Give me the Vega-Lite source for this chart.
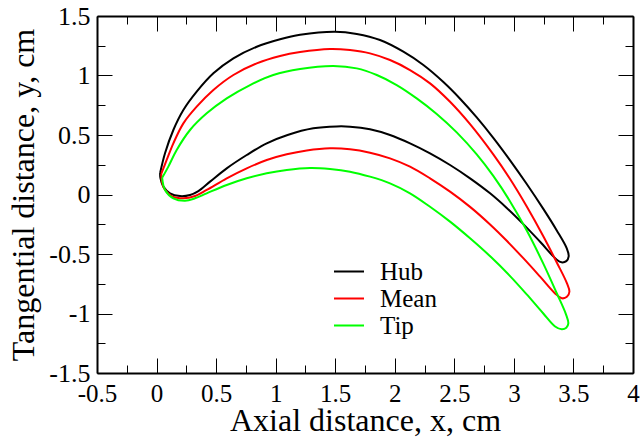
{
  "$schema": "https://vega.github.io/schema/vega-lite/v6.json",
  "width": 536,
  "height": 357,
  "autosize": "none",
  "padding": {"left": 97, "top": 16, "right": 7, "bottom": 68},
  "config": {
    "view": {"stroke": null},
    "font": "Liberation Serif",
    "axis": {
      "domainColor": "#000000",
      "domainWidth": 2,
      "tickColor": "#000000",
      "tickWidth": 1,
      "grid": false,
      "labelColor": "#000000",
      "titleColor": "#000000",
      "labelFont": "Liberation Serif",
      "titleFont": "Liberation Serif",
      "labelFontSize": 26,
      "titleFontSize": 32,
      "titleFontWeight": "normal",
      "labelFlush": false,
      "labelOverlap": false
    }
  },
  "datasets": {
    "blades": [
      {"s":"Hub","i":0,"x":0.030,"y":0.180},{"s":"Hub","i":1,"x":0.071,"y":0.346},{"s":"Hub","i":2,"x":0.141,"y":0.542},{"s":"Hub","i":3,"x":0.225,"y":0.710},{"s":"Hub","i":4,"x":0.337,"y":0.864},{"s":"Hub","i":5,"x":0.477,"y":1.018},{"s":"Hub","i":6,"x":0.645,"y":1.144},{"s":"Hub","i":7,"x":0.841,"y":1.242},{"s":"Hub","i":8,"x":1.037,"y":1.304},{"s":"Hub","i":9,"x":1.205,"y":1.342},{"s":"Hub","i":10,"x":1.498,"y":1.368},{"s":"Hub","i":11,"x":1.681,"y":1.349},{"s":"Hub","i":12,"x":1.876,"y":1.298},{"s":"Hub","i":13,"x":2.072,"y":1.200},{"s":"Hub","i":14,"x":2.240,"y":1.088},{"s":"Hub","i":15,"x":2.408,"y":0.945},{"s":"Hub","i":16,"x":2.548,"y":0.805},{"s":"Hub","i":17,"x":2.688,"y":0.648},{"s":"Hub","i":18,"x":2.827,"y":0.476},{"s":"Hub","i":19,"x":2.968,"y":0.287},{"s":"Hub","i":20,"x":3.108,"y":0.088},{"s":"Hub","i":21,"x":3.247,"y":-0.121},{"s":"Hub","i":22,"x":3.360,"y":-0.302},{"s":"Hub","i":23,"x":3.444,"y":-0.453},{"s":"Hub","i":24,"x":3.460,"y":-0.520},{"s":"Hub","i":25,"x":3.440,"y":-0.560},{"s":"Hub","i":26,"x":3.400,"y":-0.570},{"s":"Hub","i":27,"x":3.360,"y":-0.548},{"s":"Hub","i":28,"x":3.220,"y":-0.397},{"s":"Hub","i":29,"x":3.079,"y":-0.249},{"s":"Hub","i":30,"x":2.940,"y":-0.113},{"s":"Hub","i":31,"x":2.800,"y":0.010},{"s":"Hub","i":32,"x":2.632,"y":0.136},{"s":"Hub","i":33,"x":2.464,"y":0.248},{"s":"Hub","i":34,"x":2.296,"y":0.346},{"s":"Hub","i":35,"x":2.128,"y":0.430},{"s":"Hub","i":36,"x":1.960,"y":0.500},{"s":"Hub","i":37,"x":1.792,"y":0.548},{"s":"Hub","i":38,"x":1.624,"y":0.570},{"s":"Hub","i":39,"x":1.512,"y":0.572},{"s":"Hub","i":40,"x":1.316,"y":0.556},{"s":"Hub","i":41,"x":1.100,"y":0.500},{"s":"Hub","i":42,"x":0.925,"y":0.430},{"s":"Hub","i":43,"x":0.757,"y":0.332},{"s":"Hub","i":44,"x":0.589,"y":0.220},{"s":"Hub","i":45,"x":0.449,"y":0.108},{"s":"Hub","i":46,"x":0.351,"y":0.029},{"s":"Hub","i":47,"x":0.281,"y":-0.004},{"s":"Hub","i":48,"x":0.197,"y":-0.013},{"s":"Hub","i":49,"x":0.113,"y":0.010},{"s":"Hub","i":50,"x":0.057,"y":0.066},{"s":"Hub","i":51,"x":0.032,"y":0.140},{"s":"Hub","i":52,"x":0.030,"y":0.180},
      {"s":"Mean","i":0,"x":0.040,"y":0.175},{"s":"Mean","i":1,"x":0.085,"y":0.290},{"s":"Mean","i":2,"x":0.141,"y":0.430},{"s":"Mean","i":3,"x":0.225,"y":0.598},{"s":"Mean","i":4,"x":0.337,"y":0.738},{"s":"Mean","i":5,"x":0.477,"y":0.878},{"s":"Mean","i":6,"x":0.645,"y":1.004},{"s":"Mean","i":7,"x":0.841,"y":1.102},{"s":"Mean","i":8,"x":1.037,"y":1.164},{"s":"Mean","i":9,"x":1.205,"y":1.197},{"s":"Mean","i":10,"x":1.456,"y":1.223},{"s":"Mean","i":11,"x":1.624,"y":1.214},{"s":"Mean","i":12,"x":1.792,"y":1.186},{"s":"Mean","i":13,"x":1.960,"y":1.130},{"s":"Mean","i":14,"x":2.128,"y":1.046},{"s":"Mean","i":15,"x":2.296,"y":0.934},{"s":"Mean","i":16,"x":2.464,"y":0.779},{"s":"Mean","i":17,"x":2.632,"y":0.591},{"s":"Mean","i":18,"x":2.827,"y":0.337},{"s":"Mean","i":19,"x":2.968,"y":0.130},{"s":"Mean","i":20,"x":3.108,"y":-0.101},{"s":"Mean","i":21,"x":3.247,"y":-0.351},{"s":"Mean","i":22,"x":3.360,"y":-0.571},{"s":"Mean","i":23,"x":3.444,"y":-0.743},{"s":"Mean","i":24,"x":3.466,"y":-0.817},{"s":"Mean","i":25,"x":3.445,"y":-0.860},{"s":"Mean","i":26,"x":3.402,"y":-0.872},{"s":"Mean","i":27,"x":3.346,"y":-0.831},{"s":"Mean","i":28,"x":3.220,"y":-0.690},{"s":"Mean","i":29,"x":3.079,"y":-0.535},{"s":"Mean","i":30,"x":2.940,"y":-0.389},{"s":"Mean","i":31,"x":2.800,"y":-0.252},{"s":"Mean","i":32,"x":2.632,"y":-0.104},{"s":"Mean","i":33,"x":2.464,"y":0.024},{"s":"Mean","i":34,"x":2.296,"y":0.136},{"s":"Mean","i":35,"x":2.128,"y":0.234},{"s":"Mean","i":36,"x":1.960,"y":0.304},{"s":"Mean","i":37,"x":1.792,"y":0.351},{"s":"Mean","i":38,"x":1.624,"y":0.380},{"s":"Mean","i":39,"x":1.456,"y":0.388},{"s":"Mean","i":40,"x":1.261,"y":0.370},{"s":"Mean","i":41,"x":1.093,"y":0.338},{"s":"Mean","i":42,"x":0.925,"y":0.290},{"s":"Mean","i":43,"x":0.757,"y":0.220},{"s":"Mean","i":44,"x":0.589,"y":0.136},{"s":"Mean","i":45,"x":0.421,"y":0.038},{"s":"Mean","i":46,"x":0.323,"y":-0.013},{"s":"Mean","i":47,"x":0.225,"y":-0.032},{"s":"Mean","i":48,"x":0.127,"y":-0.013},{"s":"Mean","i":49,"x":0.063,"y":0.052},{"s":"Mean","i":50,"x":0.042,"y":0.130},{"s":"Mean","i":51,"x":0.040,"y":0.175},
      {"s":"Tip","i":0,"x":0.047,"y":0.140},{"s":"Tip","i":1,"x":0.099,"y":0.234},{"s":"Tip","i":2,"x":0.169,"y":0.374},{"s":"Tip","i":3,"x":0.281,"y":0.542},{"s":"Tip","i":4,"x":0.421,"y":0.682},{"s":"Tip","i":5,"x":0.589,"y":0.808},{"s":"Tip","i":6,"x":0.785,"y":0.920},{"s":"Tip","i":7,"x":0.980,"y":1.004},{"s":"Tip","i":8,"x":1.205,"y":1.055},{"s":"Tip","i":9,"x":1.484,"y":1.080},{"s":"Tip","i":10,"x":1.681,"y":1.060},{"s":"Tip","i":11,"x":1.849,"y":1.004},{"s":"Tip","i":12,"x":2.016,"y":0.920},{"s":"Tip","i":13,"x":2.184,"y":0.808},{"s":"Tip","i":14,"x":2.352,"y":0.677},{"s":"Tip","i":15,"x":2.520,"y":0.522},{"s":"Tip","i":16,"x":2.688,"y":0.337},{"s":"Tip","i":17,"x":2.827,"y":0.156},{"s":"Tip","i":18,"x":2.968,"y":-0.058},{"s":"Tip","i":19,"x":3.108,"y":-0.303},{"s":"Tip","i":20,"x":3.247,"y":-0.581},{"s":"Tip","i":21,"x":3.360,"y":-0.830},{"s":"Tip","i":22,"x":3.438,"y":-1.009},{"s":"Tip","i":23,"x":3.457,"y":-1.083},{"s":"Tip","i":24,"x":3.440,"y":-1.120},{"s":"Tip","i":25,"x":3.402,"y":-1.133},{"s":"Tip","i":26,"x":3.346,"y":-1.109},{"s":"Tip","i":27,"x":3.247,"y":-1.000},{"s":"Tip","i":28,"x":3.108,"y":-0.840},{"s":"Tip","i":29,"x":2.968,"y":-0.686},{"s":"Tip","i":30,"x":2.810,"y":-0.528},{"s":"Tip","i":31,"x":2.632,"y":-0.368},{"s":"Tip","i":32,"x":2.464,"y":-0.228},{"s":"Tip","i":33,"x":2.296,"y":-0.103},{"s":"Tip","i":34,"x":2.128,"y":0.010},{"s":"Tip","i":35,"x":1.960,"y":0.094},{"s":"Tip","i":36,"x":1.792,"y":0.150},{"s":"Tip","i":37,"x":1.624,"y":0.192},{"s":"Tip","i":38,"x":1.456,"y":0.214},{"s":"Tip","i":39,"x":1.288,"y":0.222},{"s":"Tip","i":40,"x":1.093,"y":0.206},{"s":"Tip","i":41,"x":0.925,"y":0.178},{"s":"Tip","i":42,"x":0.757,"y":0.136},{"s":"Tip","i":43,"x":0.589,"y":0.080},{"s":"Tip","i":44,"x":0.421,"y":0.010},{"s":"Tip","i":45,"x":0.323,"y":-0.032},{"s":"Tip","i":46,"x":0.239,"y":-0.052},{"s":"Tip","i":47,"x":0.141,"y":-0.032},{"s":"Tip","i":48,"x":0.071,"y":0.038},{"s":"Tip","i":49,"x":0.047,"y":0.140}
    ]
  },
  "data": {"name": "blades"},
  "resolve": {"axis": {"x": "independent", "y": "independent"}},
  "layer": [
    {
      "mark": {"type": "line", "strokeWidth": 2, "interpolate": "catmull-rom"},
      "encoding": {
        "x": {
          "field": "x", "type": "quantitative",
          "scale": {"domain": [-0.5, 4], "nice": false, "zero": false},
          "axis": {
            "orient": "bottom",
            "title": "Axial distance, x, cm",
            "labelFont": "Liberation Serif",
            "labelFontSize": 25,
            "titleFont": "Liberation Serif",
            "titleFontSize": 32,
            "values": [-0.5,-0.25,0,0.25,0.5,0.75,1,1.25,1.5,1.75,2,2.25,2.5,2.75,3,3.25,3.5,3.75,4],
            "labelExpr": "abs(datum.value*2 - round(datum.value*2)) < 0.001 ? '' + datum.value : ''",
            "tickSize": {"condition": {"test": "abs(datum.value*2 - round(datum.value*2)) < 0.001", "value": -15}, "value": -8},
            "labelPadding": 23,
            "titlePadding": -8
          }
        },
        "y": {
          "field": "y", "type": "quantitative",
          "scale": {"domain": [-1.5, 1.5], "nice": false, "zero": false},
          "axis": {
            "orient": "left",
            "title": "Tangential distance, y, cm",
            "labelFont": "Liberation Serif",
            "labelFontSize": 26,
            "titleFont": "Liberation Serif",
            "titleFontSize": 32,
            "values": [-1.5,-1.25,-1,-0.75,-0.5,-0.25,0,0.25,0.5,0.75,1,1.25,1.5],
            "labelExpr": "abs(datum.value*2 - round(datum.value*2)) < 0.001 ? '' + datum.value : ''",
            "tickSize": {"condition": {"test": "abs(datum.value*2 - round(datum.value*2)) < 0.001", "value": -15}, "value": -8},
            "labelPadding": 22,
            "titlePadding": 8
          }
        },
        "color": {
          "field": "s", "type": "nominal",
          "scale": {"domain": ["Hub", "Mean", "Tip"], "range": ["#000000", "#ff0000", "#00ff00"]},
          "legend": {
            "title": null,
            "orient": "none",
            "legendX": 236,
            "legendY": 243,
            "padding": 0,
            "symbolType": "stroke",
            "symbolSize": 900,
            "symbolStrokeWidth": 2,
            "labelFont": "Liberation Serif",
            "labelFontSize": 25,
            "labelColor": "#000000",
            "labelOffset": 15,
            "clipHeight": 25,
            "rowPadding": 1
          }
        },
        "order": {"field": "i", "type": "quantitative"}
      }
    },
    {
      "mark": {"type": "point", "opacity": 0, "size": 1},
      "encoding": {
        "x": {
          "field": "x", "type": "quantitative",
          "axis": {
            "orient": "top",
            "title": null,
            "labels": false,
            "values": [-0.5,-0.25,0,0.25,0.5,0.75,1,1.25,1.5,1.75,2,2.25,2.5,2.75,3,3.25,3.5,3.75,4],
            "tickSize": {"condition": {"test": "abs(datum.value*2 - round(datum.value*2)) < 0.001", "value": -15}, "value": -8}
          }
        },
        "y": {
          "field": "y", "type": "quantitative",
          "axis": {
            "orient": "right",
            "title": null,
            "labels": false,
            "values": [-1.5,-1.25,-1,-0.75,-0.5,-0.25,0,0.25,0.5,0.75,1,1.25,1.5],
            "tickSize": {"condition": {"test": "abs(datum.value*2 - round(datum.value*2)) < 0.001", "value": -15}, "value": -8}
          }
        }
      }
    }
  ]
}
